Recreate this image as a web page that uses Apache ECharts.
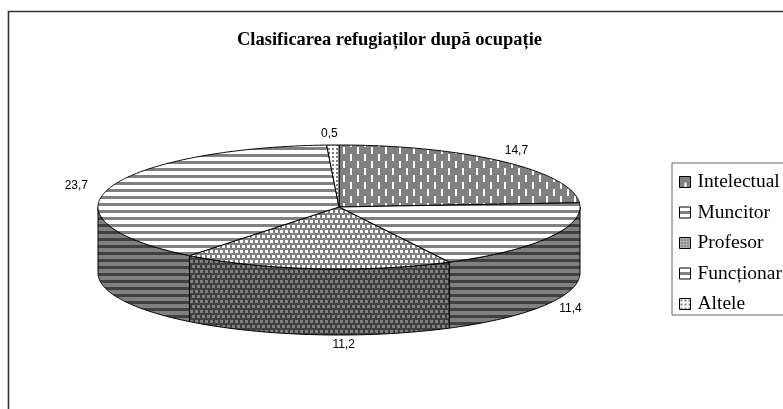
<!DOCTYPE html>
<html><head><meta charset="utf-8">
<style>html,body{margin:0;padding:0;background:#fff;overflow:hidden}#c{width:783px;height:409px}</style>
<script src="https://cdn.jsdelivr.net/npm/echarts@6/dist/echarts.min.js"></script>
</head><body><div id="c"></div>
<script>
const titleText = 'Clasificarea refugiaților după ocupație';
const categories = ['Intelectual', 'Muncitor', 'Profesor', 'Funcționar', 'Altele'];
const values = [14.7, 11.4, 11.2, 23.7, 0.5];
const valueLabels = ['14,7', '11,4', '11,2', '23,7', '0,5'];

// layout of the tilted pie
const CX = 339, CY = 207, RX = 241, RY = 62, DEPTH = 66;
const LABEL_RX = 260, LABEL_RY = 78;
const labelNudge = [[0, 1], [5, -3], [30, -6], [-15, 2], [-3, 5]];

const GREY = '#808080', DARK = '#404040', WHITE = '#ffffff';
function tile(w, h, bg, draw) {
  const c = document.createElement('canvas'); c.width = w; c.height = h;
  const g = c.getContext('2d'); g.fillStyle = bg; g.fillRect(0, 0, w, h);
  draw(g); return { image: c, repeat: 'repeat' };
}
const dashes = () => tile(14, 14, GREY, g => { g.fillStyle = WHITE; g.fillRect(0, 0, 2, 7); g.fillRect(7, 7, 2, 7); });
const stripes = (bg, fg) => tile(4, 7, bg, g => { g.fillStyle = fg; g.fillRect(0, 0, 4, 3); });
const dots = (bg, fg) => tile(10, 10, bg, g => {
  g.fillStyle = fg;
  [[0, 0], [5, 0], [2, 5], [7, 5]].forEach(p => g.fillRect(p[0], p[1], 3, 3));
});
const grid = () => tile(4, 4, WHITE, g => { g.fillStyle = GREY; g.fillRect(0, 0, 2, 2); });

const topFills = [dashes(), stripes(WHITE, GREY), dots(GREY, WHITE), stripes(WHITE, GREY), grid()];
const sideFills = [stripes(GREY, DARK), stripes(GREY, DARK), dots(DARK, GREY), stripes(GREY, DARK), stripes(GREY, DARK)];

// legend swatches: one 11px tile each, so the motif sits as it does in the reference
const bandSwatch = () => tile(11, 11, WHITE, g => { g.fillStyle = GREY; g.fillRect(0, 4, 11, 3); });
const swatchFills = [
  tile(11, 11, GREY, g => { g.fillStyle = WHITE; g.fillRect(5, 6, 2, 5); }),
  bandSwatch(),
  tile(3, 3, GREY, g => { g.fillStyle = '#c8c8c8'; g.fillRect(0, 0, 2, 2); }),
  bandSwatch(),
  tile(4, 4, WHITE, g => { g.fillStyle = GREY; g.fillRect(1, 1, 2, 2); })
];

const total = values.reduce((a, b) => a + b, 0);
const starts = []; values.reduce((a, v, i) => (starts[i] = a, a + v), 0);
const toAng = v => v / total * Math.PI * 2;
const pt = (a, dy) => [CX + RX * Math.sin(a), CY - RY * Math.cos(a) + (dy || 0)];
function arc(a0, a1, dy) {
  const n = Math.max(2, Math.ceil((a1 - a0) / 0.01)), out = [];
  for (let i = 0; i <= n; i++) out.push(pt(a0 + (a1 - a0) * i / n, dy));
  return out;
}

function renderSlice(params) {
  const i = params.seriesIndex;
  const a0 = toAng(starts[i]), a1 = toAng(starts[i] + values[i]);
  const children = [];
  const sa0 = Math.max(a0, Math.PI / 2), sa1 = Math.min(a1, Math.PI * 1.5);
  if (sa1 > sa0) {
    children.push({
      type: 'polygon',
      shape: { points: arc(sa0, sa1, 0).concat(arc(sa0, sa1, DEPTH).reverse()) },
      style: { fill: sideFills[i], stroke: '#000', lineWidth: 1 }
    });
  }
  children.push({
    type: 'polygon',
    shape: { points: [[CX, CY]].concat(arc(a0, a1, 0)) },
    style: { fill: topFills[i], stroke: '#000', lineWidth: 1 }
  });
  const mid = (a0 + a1) / 2;
  const front = Math.cos(mid) < 0;
  children.push({
    type: 'text',
    style: {
      text: valueLabels[i],
      x: CX + LABEL_RX * Math.sin(mid) + labelNudge[i][0],
      y: CY - LABEL_RY * Math.cos(mid) + (front ? DEPTH : 0) + labelNudge[i][1],
      align: 'center', verticalAlign: 'middle',
      font: '12px "Liberation Sans", Arial, sans-serif', fill: '#000'
    }
  });
  return { type: 'group', children };
}

const chart = echarts.init(document.getElementById('c'), null, { renderer: 'canvas' });
chart.setOption({
  animation: false,
  backgroundColor: '#fff',
  title: {
    text: titleText, left: 237, top: 31, padding: 0,
    textStyle: { fontFamily: '"Liberation Serif", serif', fontWeight: 'bold', fontSize: 18.5, color: '#000' }
  },
  legend: {
    orient: 'vertical', left: 672, top: 163, padding: [9, 12, 1, 7],
    itemWidth: 11, itemHeight: 11, itemGap: 10.5,
    backgroundColor: '#fff', borderColor: '#666', borderWidth: 1,
    icon: 'rect', selectedMode: false,
    itemStyle: { borderColor: '#000', borderWidth: 1 },
    textStyle: { fontFamily: '"Liberation Serif", serif', fontSize: 19.5, color: '#000', padding: [0, 0, 0, 2], lineHeight: 20 },
    data: categories.map((name, i) => ({ name, itemStyle: { color: swatchFills[i] } }))
  },
  graphic: [{
    type: 'polyline', silent: true,
    shape: { points: [[8.5, 409], [8.5, 11.5], [783, 11.5]] },
    style: { stroke: '#333', lineWidth: 1.6, fill: null }
  }],
  series: categories.map((name, i) => ({
    type: 'custom', name, coordinateSystem: 'none',
    renderItem: renderSlice, data: [values[i]],
    itemStyle: { color: topFills[i] }, silent: true
  }))
});
</script></body></html>
